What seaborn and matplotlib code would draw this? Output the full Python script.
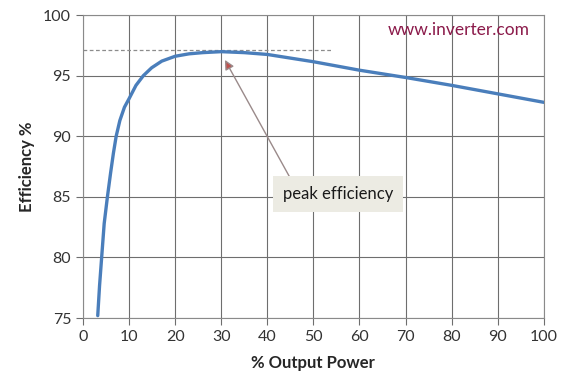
import matplotlib
matplotlib.use("Agg")
import matplotlib.pyplot as plt
import seaborn as sns
import pandas as pd

# values
output_power = [3.2, 3.6, 4.05, 4.6, 5.3, 6.0, 6.6, 7.2, 8.0, 9.0, 10, 11.5, 13.1, 14.9,
                17.1, 20, 23, 26, 30, 35, 40, 50, 60, 70, 80, 90, 100]
efficiency = [75.2, 77.7, 80.0, 82.8, 85.0, 87.0, 88.6, 90.0, 91.3, 92.4, 93.1, 94.2, 95.0, 95.65,
              96.2, 96.6, 96.8, 96.9, 96.98, 96.9, 96.75, 96.15, 95.45, 94.85, 94.2, 93.5, 92.8]
peak_level = 97.1
x_ticks = list(range(0, 101, 10))
y_ticks = [75, 80, 85, 90, 95, 100]

df = pd.DataFrame({"power": output_power, "eff": efficiency})

sns.set_style("white")
plt.rcParams["font.family"] = ["Lato", "DejaVu Sans"]

fig = plt.figure(figsize=(5.7, 3.86), dpi=100)
ax = fig.add_axes([0.1456, 0.176, 0.8084, 0.785])

sns.lineplot(data=df, x="power", y="eff", ax=ax, color="#4a7ebb", linewidth=2.4, zorder=3)

ax.plot([0, 54], [peak_level, peak_level], color="#8c8c8c", linestyle=(0, (3, 2)), linewidth=0.9, zorder=2)

ax.set_xlim(0, 100)
ax.set_ylim(75, 100)
ax.set_xticks(x_ticks)
ax.set_yticks(y_ticks)
ax.grid(True, color="#6e6e6e", linewidth=0.8)
ax.set_axisbelow(True)
for s in ax.spines.values():
    s.set_color("#8a8a8a")
    s.set_linewidth(0.8)
ax.tick_params(axis="both", which="both", length=5, color="#6e6e6e", labelsize=11.5,
               labelcolor="#333333", direction="out", bottom=True, left=True)

ax.set_xlabel("% Output Power", fontsize=12, fontweight="bold", labelpad=8)
ax.set_ylabel("Efficiency %", fontsize=12, fontweight="bold", labelpad=6)

ax.text(97, 98.8, "www.inverter.com", color="#8b1a4a", fontsize=12.5, ha="right", va="center")

ax.annotate("", xy=(30.8, 96.3), xytext=(44.9, 86.6),
            arrowprops=dict(arrowstyle="-|>", color="#9a8a8a", lw=1.0,
                            mutation_scale=14, shrinkA=0, shrinkB=0,
                            fc="#c0504d"), zorder=4)
ax.text(55.3, 85.2, "peak efficiency", fontsize=12, ha="center", va="center", color="#1a1a1a",
        bbox=dict(boxstyle="square,pad=0.6", fc="#ecebe3", ec="none"), zorder=5)

fig.savefig("out.png", dpi=100)
